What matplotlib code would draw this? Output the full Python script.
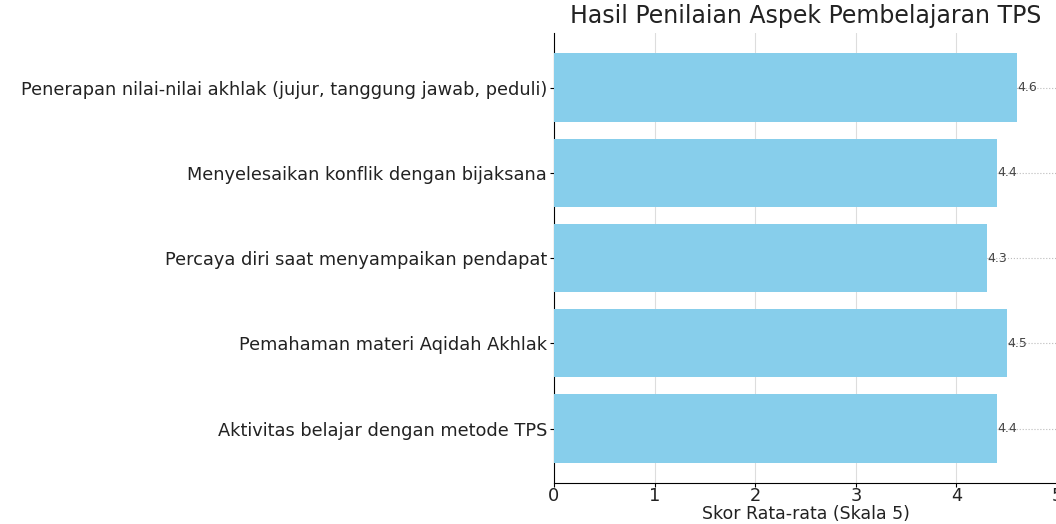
import matplotlib.pyplot as plt

# data
aspek = [
    "Aktivitas belajar dengan metode TPS",
    "Pemahaman materi Aqidah Akhlak",
    "Percaya diri saat menyampaikan pendapat",
    "Menyelesaikan konflik dengan bijaksana",
    "Penerapan nilai-nilai akhlak (jujur, tanggung jawab, peduli)",
]
skor = [4.4, 4.5, 4.3, 4.4, 4.6]

fig = plt.figure(figsize=(10.56, 5.24), dpi=100)
ax = fig.add_axes([0.5246, 0.078, 0.4763, 0.859])

bars = ax.barh(aspek, skor, color="skyblue", height=0.8, zorder=3)

for b, v in zip(bars, skor):
    ax.text(b.get_width() + 0.01, b.get_y() + b.get_height() / 2, f"{v}",
            va="center", ha="left", fontsize=9, color="#444444", zorder=4)

ax.set_xlim(0, 5)
ax.set_title("Hasil Penilaian Aspek Pembelajaran TPS", fontsize=17, color="#222222", pad=7)
ax.set_xlabel("Skor Rata-rata (Skala 5)", fontsize=12.5, labelpad=0, color="#222222")
ax.tick_params(axis="y", labelsize=12.8, labelcolor="#222222", length=3, pad=2)
ax.tick_params(axis="x", labelsize=12.8, labelcolor="#222222", length=3, pad=0)

ax.grid(axis="x", color="#dddddd", linewidth=0.8, zorder=0)
ax.grid(axis="y", color="#bbbbbb", linestyle=":", linewidth=0.8, zorder=0)
ax.spines["top"].set_visible(False)
ax.spines["right"].set_visible(False)

plt.savefig("out.png", dpi=100)
